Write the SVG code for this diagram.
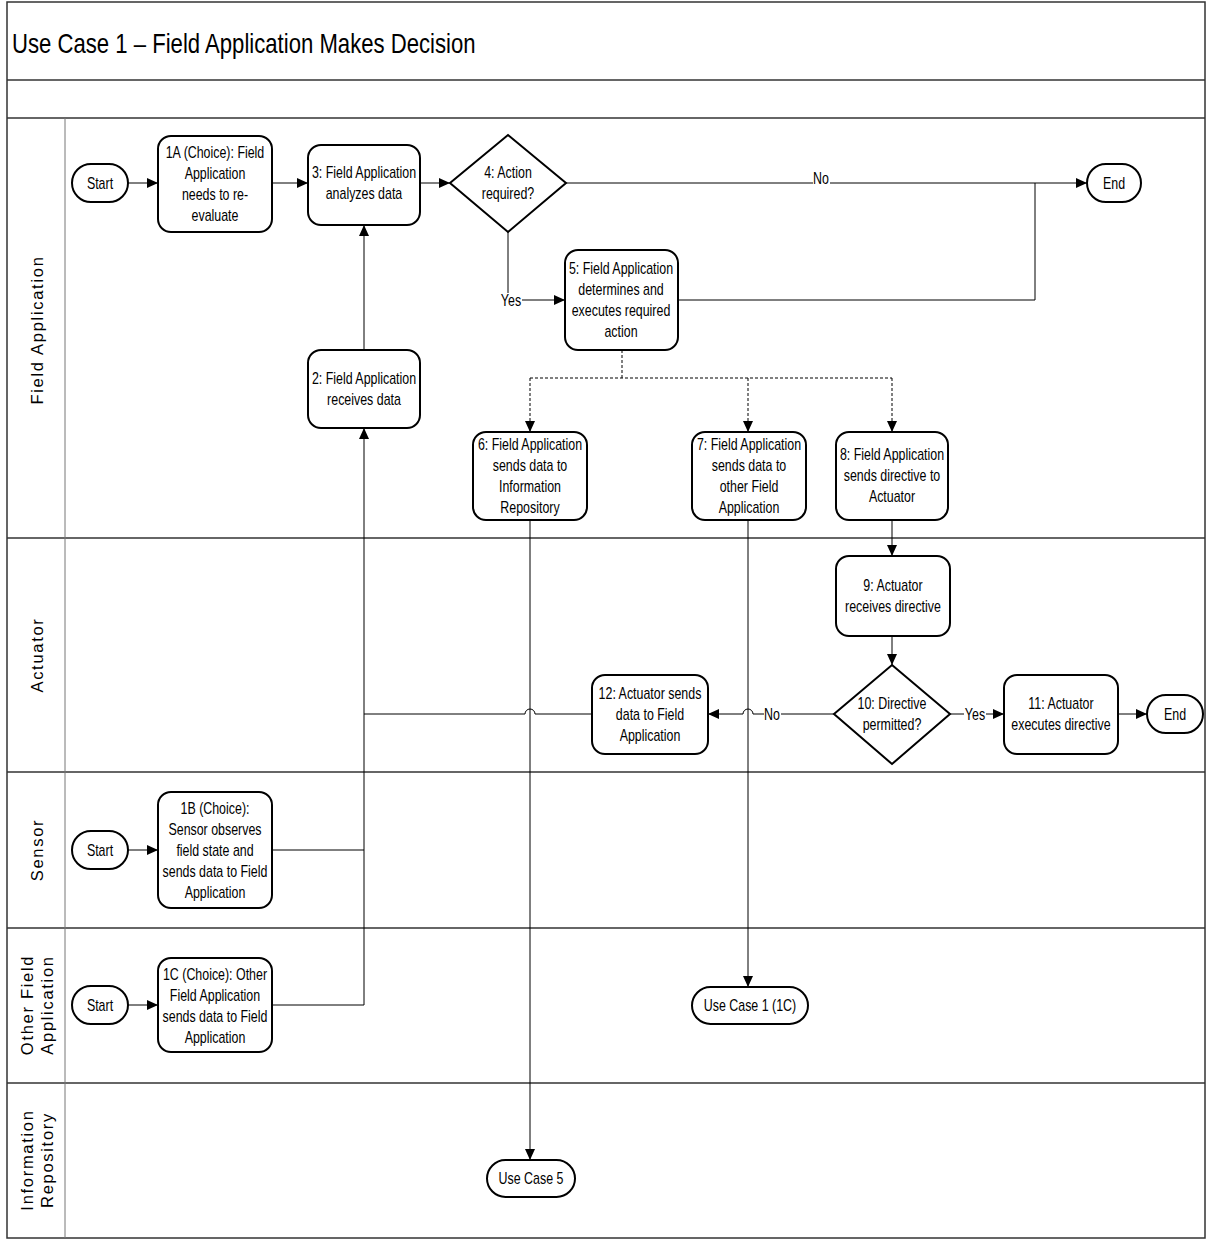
<svg xmlns="http://www.w3.org/2000/svg" width="1206" height="1240" viewBox="0 0 1206 1240">
  <style>
    .frame { fill: none; stroke: #333; stroke-width: 1.5; }
    .lane { fill: none; stroke: #333; stroke-width: 1.5; }
    .lanecol { fill: none; stroke: #777; stroke-width: 1; }
    .node { fill: #fff; stroke: #000; stroke-width: 2; }
    .t { font-family: "Liberation Sans", Arial, sans-serif; font-size: 17px; fill: #000; text-anchor: middle; }
    .title { font-family: "Liberation Sans", Arial, sans-serif; font-size: 27px; fill: #000; }
    .lanelabel { font-family: "Liberation Sans", Arial, sans-serif; font-size: 16.5px; letter-spacing: 1.7px; fill: #000; text-anchor: middle; }
    .conn { fill: none; stroke: #000; stroke-width: 1; }
    .dash { fill: none; stroke: #000; stroke-width: 1; stroke-dasharray: 3 2; }
    .lblbg { fill: #fff; }
  </style>
  <defs>
    <marker id="arrow" markerUnits="userSpaceOnUse" markerWidth="12" markerHeight="10" refX="11" refY="5" orient="auto">
      <path d="M0,0 L11,5 L0,10 Z" fill="#000"/>
    </marker>
  </defs>

  <rect width="1206" height="1240" fill="#fff"/>

  <!-- pool frame, title band and lanes -->
  <g id="pool">
    <rect class="frame" x="7" y="2" width="1198" height="1236"/>
    <line class="lane" x1="7" y1="80" x2="1205" y2="80"/>
    <line class="lane" x1="7" y1="118" x2="1205" y2="118"/>
    <line class="lane" x1="7" y1="538" x2="1205" y2="538"/>
    <line class="lane" x1="7" y1="772" x2="1205" y2="772"/>
    <line class="lane" x1="7" y1="928" x2="1205" y2="928"/>
    <line class="lane" x1="7" y1="1083" x2="1205" y2="1083"/>
    <line class="lanecol" x1="65" y1="118" x2="65" y2="1238"/>
    <text class="title" x="12" y="53" transform="matrix(0.82 0 0 1 2.16 0)">Use Case 1 – Field Application Makes Decision</text>
    <text class="lanelabel" transform="translate(43,330) rotate(-90)">Field Application</text>
    <text class="lanelabel" transform="translate(43,655) rotate(-90)">Actuator</text>
    <text class="lanelabel" transform="translate(43,850) rotate(-90)">Sensor</text>
    <text class="lanelabel" transform="translate(37,1005) rotate(-90)"><tspan x="0" dy="-4">Other Field</tspan><tspan x="0" dy="20">Application</tspan></text>
    <text class="lanelabel" transform="translate(37,1160) rotate(-90)"><tspan x="0" dy="-4">Information</tspan><tspan x="0" dy="20">Repository</tspan></text>
  </g>

  <!-- connectors -->
  <g id="connectors">
    <path class="conn" d="M128,183 H158" marker-end="url(#arrow)"/>
    <path class="conn" d="M272,183 H308" marker-end="url(#arrow)"/>
    <path class="conn" d="M420,183 H450" marker-end="url(#arrow)"/>
    <path class="conn" d="M566,183 H1087" marker-end="url(#arrow)"/>
    <path class="conn" d="M508,232 V300 H565" marker-end="url(#arrow)"/>
    <path class="conn" d="M678,300 H1035 V183"/>
    <path class="conn" d="M364,350 V225" marker-end="url(#arrow)"/>
    <path class="dash" d="M622,350 V378"/>
    <path class="dash" d="M530,378 H892"/>
    <path class="dash" d="M530,378 V432" marker-end="url(#arrow)"/>
    <path class="dash" d="M748,378 V432" marker-end="url(#arrow)"/>
    <path class="dash" d="M892,378 V432" marker-end="url(#arrow)"/>
    <path class="conn" d="M892,520 V556" marker-end="url(#arrow)"/>
    <path class="conn" d="M892,636 V665" marker-end="url(#arrow)"/>
    <path class="conn" d="M950,714 H1004" marker-end="url(#arrow)"/>
    <path class="conn" d="M1118,714 H1147" marker-end="url(#arrow)"/>
    <path class="conn" d="M834,714 H753 A5,5 0 0 0 743,714 H708" marker-end="url(#arrow)"/>
    <path class="conn" d="M592,714 H535 A5,5 0 0 0 525,714 H364"/>
    <path class="conn" d="M272,850 H364"/>
    <path class="conn" d="M272,1005 H364 V428" marker-end="url(#arrow)"/>
    <path class="conn" d="M128,850 H158" marker-end="url(#arrow)"/>
    <path class="conn" d="M128,1005 H158" marker-end="url(#arrow)"/>
    <path class="conn" d="M530,520 V1160" marker-end="url(#arrow)"/>
    <path class="conn" d="M748,520 V987" marker-end="url(#arrow)"/>
    <!-- branch labels -->
    <rect class="lblbg" x="813" y="172" width="17" height="14"/>
    <text class="t" x="821" y="184" transform="matrix(0.73 0 0 1 221.67 0)">No</text>
    <rect class="lblbg" x="500" y="293" width="22" height="14"/>
    <text class="t" x="511" y="306" transform="matrix(0.73 0 0 1 137.97 0)">Yes</text>
    <rect class="lblbg" x="964" y="707" width="22" height="14"/>
    <text class="t" x="975" y="720" transform="matrix(0.73 0 0 1 263.25 0)">Yes</text>
    <rect class="lblbg" x="764" y="707" width="17" height="14"/>
    <text class="t" x="772" y="720" transform="matrix(0.73 0 0 1 208.44 0)">No</text>
  </g>

  <!-- Field Application lane -->
  <g id="start-fa">
    <rect class="node" x="72" y="164" width="56" height="38" rx="19"/>
    <text class="t" x="100" y="189" transform="matrix(0.73 0 0 1 27 0)">Start</text>
  </g>
  <g id="step-1a">
    <rect class="node" x="158" y="136" width="114" height="96" rx="13"/>
    <text class="t" x="215" y="158" transform="matrix(0.73 0 0 1 58.05 0)"><tspan x="215">1A (Choice): Field</tspan><tspan x="215" dy="21">Application</tspan><tspan x="215" dy="21">needs to re-</tspan><tspan x="215" dy="21">evaluate</tspan></text>
  </g>
  <g id="step-3">
    <rect class="node" x="308" y="145" width="112" height="80" rx="13"/>
    <text class="t" x="364" y="178" transform="matrix(0.73 0 0 1 98.28 0)"><tspan x="364">3: Field Application</tspan><tspan x="364" dy="21">analyzes data</tspan></text>
  </g>
  <g id="decision-4">
    <polygon class="node" points="508,135 566,183 508,232 450,183"/>
    <text class="t" x="508" y="178" transform="matrix(0.73 0 0 1 137.16 0)"><tspan x="508">4: Action</tspan><tspan x="508" dy="21">required?</tspan></text>
  </g>
  <g id="end-fa">
    <rect class="node" x="1087" y="164" width="54" height="38" rx="19"/>
    <text class="t" x="1114" y="189" transform="matrix(0.73 0 0 1 300.78 0)">End</text>
  </g>
  <g id="step-5">
    <rect class="node" x="565" y="250" width="113" height="100" rx="13"/>
    <text class="t" x="621" y="274" transform="matrix(0.73 0 0 1 167.67 0)"><tspan x="621">5: Field Application</tspan><tspan x="621" dy="21">determines and</tspan><tspan x="621" dy="21">executes required</tspan><tspan x="621" dy="21">action</tspan></text>
  </g>
  <g id="step-2">
    <rect class="node" x="308" y="350" width="112" height="78" rx="13"/>
    <text class="t" x="364" y="384" transform="matrix(0.73 0 0 1 98.28 0)"><tspan x="364">2: Field Application</tspan><tspan x="364" dy="21">receives data</tspan></text>
  </g>
  <g id="step-6">
    <rect class="node" x="473" y="432" width="114" height="88" rx="13"/>
    <text class="t" x="530" y="450" transform="matrix(0.73 0 0 1 143.1 0)"><tspan x="530">6: Field Application</tspan><tspan x="530" dy="21">sends data to</tspan><tspan x="530" dy="21">Information</tspan><tspan x="530" dy="21">Repository</tspan></text>
  </g>
  <g id="step-7">
    <rect class="node" x="692" y="432" width="114" height="88" rx="13"/>
    <text class="t" x="749" y="450" transform="matrix(0.73 0 0 1 202.23 0)"><tspan x="749">7: Field Application</tspan><tspan x="749" dy="21">sends data to</tspan><tspan x="749" dy="21">other Field</tspan><tspan x="749" dy="21">Application</tspan></text>
  </g>
  <g id="step-8">
    <rect class="node" x="836" y="432" width="112" height="88" rx="13"/>
    <text class="t" x="892" y="460" transform="matrix(0.73 0 0 1 240.84 0)"><tspan x="892">8: Field Application</tspan><tspan x="892" dy="21">sends directive to</tspan><tspan x="892" dy="21">Actuator</tspan></text>
  </g>

  <!-- Actuator lane -->
  <g id="step-9">
    <rect class="node" x="836" y="556" width="114" height="80" rx="13"/>
    <text class="t" x="893" y="591" transform="matrix(0.73 0 0 1 241.11 0)"><tspan x="893">9: Actuator</tspan><tspan x="893" dy="21">receives directive</tspan></text>
  </g>
  <g id="decision-10">
    <polygon class="node" points="892,665 950,714 892,764 834,714"/>
    <text class="t" x="892" y="709" transform="matrix(0.73 0 0 1 240.84 0)"><tspan x="892">10: Directive</tspan><tspan x="892" dy="21">permitted?</tspan></text>
  </g>
  <g id="step-11">
    <rect class="node" x="1004" y="675" width="114" height="79" rx="13"/>
    <text class="t" x="1061" y="709" transform="matrix(0.73 0 0 1 286.47 0)"><tspan x="1061">11: Actuator</tspan><tspan x="1061" dy="21">executes directive</tspan></text>
  </g>
  <g id="end-act">
    <rect class="node" x="1147" y="695" width="56" height="38" rx="19"/>
    <text class="t" x="1175" y="720" transform="matrix(0.73 0 0 1 317.25 0)">End</text>
  </g>
  <g id="step-12">
    <rect class="node" x="592" y="675" width="116" height="79" rx="13"/>
    <text class="t" x="650" y="699" transform="matrix(0.73 0 0 1 175.5 0)"><tspan x="650">12: Actuator sends</tspan><tspan x="650" dy="21">data to Field</tspan><tspan x="650" dy="21">Application</tspan></text>
  </g>

  <!-- Sensor lane -->
  <g id="start-sensor">
    <rect class="node" x="72" y="831" width="56" height="38" rx="19"/>
    <text class="t" x="100" y="856" transform="matrix(0.73 0 0 1 27 0)">Start</text>
  </g>
  <g id="step-1b">
    <rect class="node" x="158" y="792" width="114" height="116" rx="13"/>
    <text class="t" x="215" y="814" transform="matrix(0.73 0 0 1 58.05 0)"><tspan x="215">1B (Choice):</tspan><tspan x="215" dy="21">Sensor observes</tspan><tspan x="215" dy="21">field state and</tspan><tspan x="215" dy="21">sends data to Field</tspan><tspan x="215" dy="21">Application</tspan></text>
  </g>

  <!-- Other Field Application lane -->
  <g id="start-ofa">
    <rect class="node" x="72" y="986" width="56" height="38" rx="19"/>
    <text class="t" x="100" y="1011" transform="matrix(0.73 0 0 1 27 0)">Start</text>
  </g>
  <g id="step-1c">
    <rect class="node" x="158" y="958" width="114" height="94" rx="13"/>
    <text class="t" x="215" y="980" transform="matrix(0.73 0 0 1 58.05 0)"><tspan x="215">1C (Choice): Other</tspan><tspan x="215" dy="21">Field Application</tspan><tspan x="215" dy="21">sends data to Field</tspan><tspan x="215" dy="21">Application</tspan></text>
  </g>
  <g id="usecase-1c">
    <rect class="node" x="692" y="987" width="116" height="37" rx="18.5"/>
    <text class="t" x="750" y="1011" transform="matrix(0.73 0 0 1 202.5 0)">Use Case 1 (1C)</text>
  </g>

  <!-- Information Repository lane -->
  <g id="usecase-5">
    <rect class="node" x="487" y="1160" width="88" height="37" rx="18.5"/>
    <text class="t" x="531" y="1184" transform="matrix(0.73 0 0 1 143.37 0)">Use Case 5</text>
  </g>
</svg>
